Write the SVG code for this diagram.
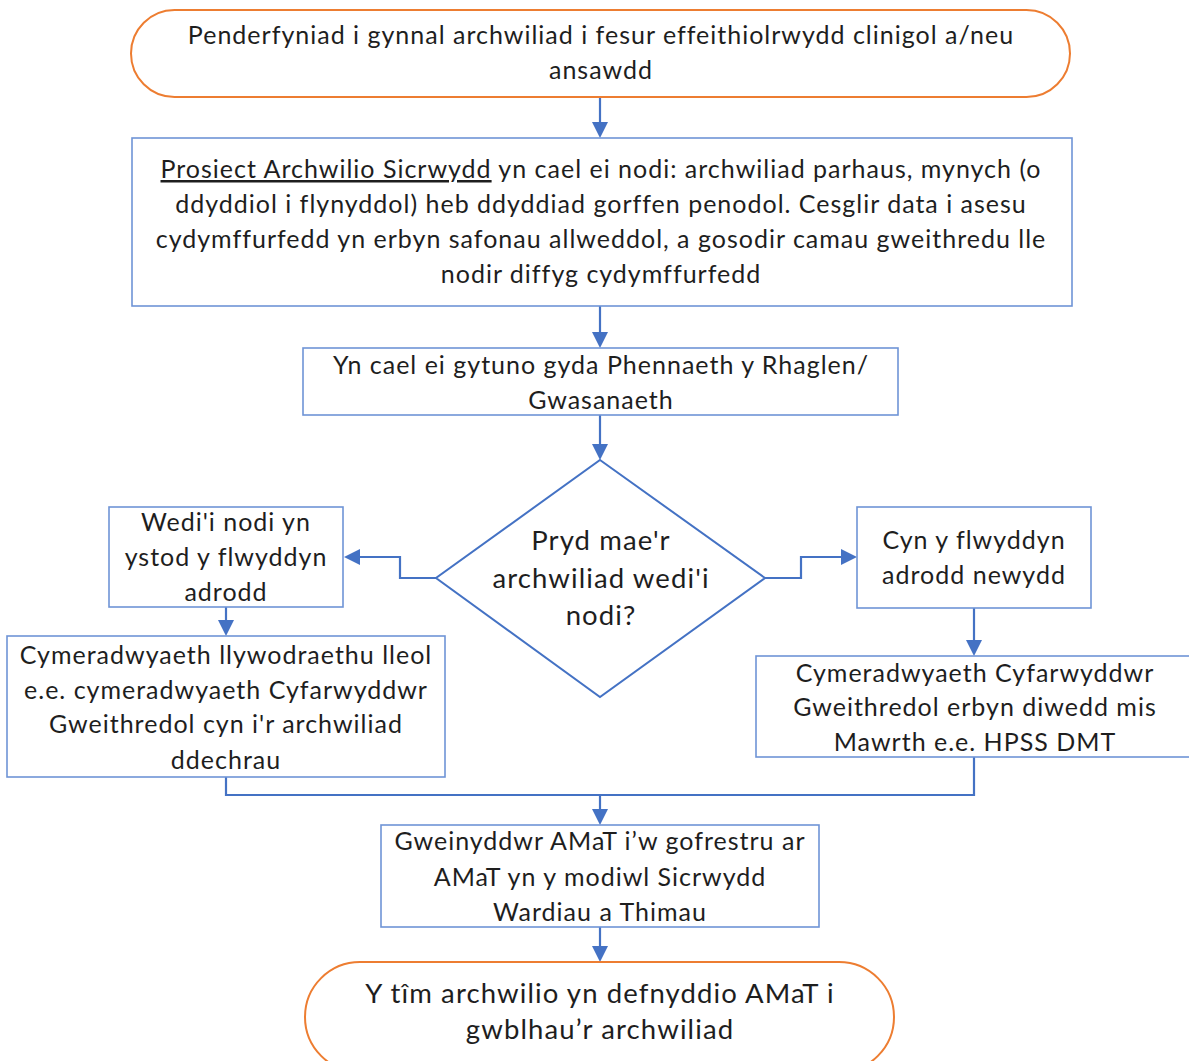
<svg xmlns="http://www.w3.org/2000/svg" width="1189" height="1061" viewBox="0 0 1189 1061">
<style>
text{font-family:Lato,"Open Sans","Liberation Sans",sans-serif;font-size:25px;letter-spacing:1px;fill:#1e1e1e;text-anchor:middle}
text.big{font-size:27.5px;letter-spacing:1.1px}
.term{fill:#fff;stroke:#ED7D31;stroke-width:2}
.box{fill:#fff;stroke:#6F94D6;stroke-width:1.6}
.dia{fill:#fff;stroke:#4472C4;stroke-width:2}
.con{fill:none;stroke:#4472C4;stroke-width:2.2}
.ah{fill:#4472C4}
</style>
<rect width="1189" height="1061" fill="#fff"/>
<g id="connectors">
<path class="con" d="M600,97 V124" />
<polygon class="ah" points="592,122 608,122 600,138"/>
<path class="con" d="M600,306 V334" />
<polygon class="ah" points="592,332 608,332 600,348"/>
<path class="con" d="M600,415 V446" />
<polygon class="ah" points="592,444 608,444 600,460"/>
<path class="con" d="M436,578 H400 V557 H358" />
<polygon class="ah" points="360,549 360,565 344,557"/>
<path class="con" d="M765,578 H801 V557 H843" />
<polygon class="ah" points="841,549 841,565 857,557"/>
<path class="con" d="M226,607 V622" />
<polygon class="ah" points="218,620 234,620 226,636"/>
<path class="con" d="M974,608 V642" />
<polygon class="ah" points="966,640 982,640 974,656"/>
<path class="con" d="M226,777 V795 H974 V757" />
<path class="con" d="M600,795 V811" />
<polygon class="ah" points="592,809 608,809 600,825"/>
<path class="con" d="M600,927 V948" />
<polygon class="ah" points="592,946 608,946 600,962"/>
</g>
<g id="start">
<rect class="term" x="131" y="10" width="939" height="87" rx="43.5"/>
<text x="601" y="44">Penderfyniad i gynnal archwiliad i fesur effeithiolrwydd clinigol a/neu</text>
<text x="601" y="79">ansawdd</text>
</g>
<g id="project">
<rect class="box" x="132" y="138" width="940" height="168"/>
<text x="601" y="178"><tspan text-decoration="underline">Prosiect Archwilio Sicrwydd</tspan> yn cael ei nodi: archwiliad parhaus, mynych (o</text>
<text x="601" y="213">ddyddiol i flynyddol) heb ddyddiad gorffen penodol. Cesglir data i asesu</text>
<text x="601" y="248">cydymffurfedd yn erbyn safonau allweddol, a gosodir camau gweithredu lle</text>
<text x="601" y="283">nodir diffyg cydymffurfedd</text>
</g>
<g id="agree">
<rect class="box" x="303" y="348" width="595" height="67"/>
<text x="601" y="374">Yn cael ei gytuno gyda Phennaeth y Rhaglen/</text>
<text x="601" y="409">Gwasanaeth</text>
</g>
<g id="decision">
<polygon class="dia" points="600,460 765,578 600,697 436,578"/>
<text class="big" x="601" y="550">Pryd mae'r</text>
<text class="big" x="601" y="588">archwiliad wedi'i</text>
<text class="big" x="601" y="625">nodi?</text>
</g>
<g id="during">
<rect class="box" x="109" y="507" width="234" height="100"/>
<text x="226" y="531">Wedi'i nodi yn</text>
<text x="226" y="566">ystod y flwyddyn</text>
<text x="226" y="601">adrodd</text>
</g>
<g id="local">
<rect class="box" x="7" y="636" width="438" height="141"/>
<text x="226" y="664">Cymeradwyaeth llywodraethu lleol</text>
<text x="226" y="699">e.e. cymeradwyaeth Cyfarwyddwr</text>
<text x="226" y="733">Gweithredol cyn i'r archwiliad</text>
<text x="226" y="769">ddechrau</text>
</g>
<g id="before">
<rect class="box" x="857" y="507" width="234" height="101"/>
<text x="974" y="549">Cyn y flwyddyn</text>
<text x="974" y="584">adrodd newydd</text>
</g>
<g id="exec">
<rect class="box" x="756" y="656" width="440" height="101"/>
<text x="975" y="682">Cymeradwyaeth Cyfarwyddwr</text>
<text x="975" y="716">Gweithredol erbyn diwedd mis</text>
<text x="975" y="751">Mawrth e.e. HPSS DMT</text>
</g>
<g id="admin">
<rect class="box" x="381" y="825" width="438" height="102"/>
<text x="600" y="850">Gweinyddwr AMaT i’w gofrestru ar</text>
<text x="600" y="886">AMaT yn y modiwl Sicrwydd</text>
<text x="600" y="921">Wardiau a Thimau</text>
</g>
<g id="end">
<rect class="term" x="305" y="962" width="589" height="110" rx="55"/>
<text class="big" x="600" y="1003">Y tîm archwilio yn defnyddio AMaT i</text>
<text class="big" x="600" y="1039">gwblhau’r archwiliad</text>
</g>
</svg>
